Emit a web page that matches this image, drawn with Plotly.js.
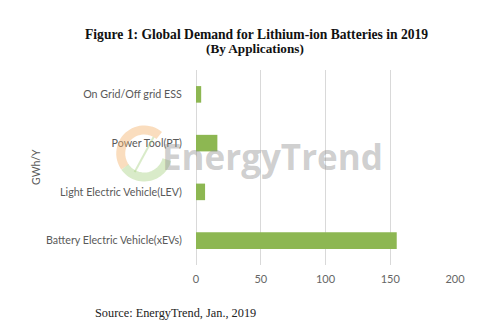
<!DOCTYPE html>
<html>
<head>
<meta charset="utf-8">
<script src="https://cdn.plot.ly/plotly-3.0.1.min.js"></script>
<style>
html,body{margin:0;padding:0;background:#fff;}
#chart{width:500px;height:335px;}
</style>
</head>
<body>
<div id="chart"></div>
<script>
const categories = ["Battery Electric Vehicle(xEVs)", "Light Electric Vehicle(LEV)", "Power Tool(PT)", "On Grid/Off grid ESS"];
const demand = [155, 7, 16.5, 4];
const xTicks = [0, 50, 100, 150, 200];
const titleLine1 = "Figure 1: Global Demand for Lithium-ion Batteries in 2019";
const titleLine2 = "(By Applications)";
const sourceText = "Source: EnergyTrend, Jan., 2019";

const W = 500, H = 335;
const M = {l: 195.5, r: 44.7, t: 70, b: 70};
const pw = W - M.l - M.r, ph = H - M.t - M.b;
const px = x => (x - M.l) / pw;
const py = y => (H - M.b - y) / ph;

function arcPath(cx, cy, r, a0, a1) {
  let s = "";
  const n = 30;
  for (let i = 0; i <= n; i++) {
    const a = (a0 + (a1 - a0) * i / n) * Math.PI / 180;
    const x = cx + r * Math.cos(a), y = cy - r * Math.sin(a);
    s += (i === 0 ? "M" : "L") + px(x).toFixed(4) + "," + py(y).toFixed(4);
  }
  return s;
}

const data = [{
  type: "bar",
  orientation: "h",
  y: categories,
  x: demand,
  marker: {color: "#8DB752"},
  hoverinfo: "x+y"
}];

const layout = {
  width: W, height: H,
  margin: M,
  paper_bgcolor: "#fff", plot_bgcolor: "#fff",
  showlegend: false,
  bargap: 0.66,
  xaxis: {
    range: [0, 200], tickvals: xTicks, showgrid: true, gridcolor: "#d9d9d9", gridwidth: 1,
    zeroline: true, zerolinecolor: "#d9d9d9", zerolinewidth: 1, showline: false,
    tickfont: {family: "Lato", size: 11, color: "#666"}, ticks: "outside", ticklen: 4, tickcolor: "rgba(0,0,0,0)"
  },
  yaxis: {
    type: "category", showgrid: false, zeroline: false, showline: false,
    ticks: "outside", ticklen: 11, tickcolor: "rgba(0,0,0,0)",
    tickfont: {family: "Lato", size: 10.7, color: "#595959"}
  },
  shapes: [
    {type: "path", xref: "paper", yref: "paper", path: arcPath(143.5, 153.5, 23.5, 50, 215), line: {color: "rgba(245,180,110,0.45)", width: 9}, layer: "above"},
    {type: "path", xref: "paper", yref: "paper", path: arcPath(143.5, 153.5, 23.5, 215, 345), line: {color: "rgba(160,205,120,0.4)", width: 9}, layer: "above"},
    {type: "path", xref: "paper", yref: "paper", path: "M" + px(134).toFixed(4) + "," + py(172).toFixed(4) + "L" + px(153).toFixed(4) + "," + py(137).toFixed(4), line: {color: "rgba(160,205,120,0.4)", width: 2}, layer: "above"}
  ],
  annotations: [
    {text: "<b>" + titleLine1 + "</b>", xref: "paper", yref: "paper", x: px(256), y: py(34), xanchor: "center", yanchor: "middle", showarrow: false, font: {family: "Liberation Serif", size: 13.6, color: "#111"}},
    {text: "<b>" + titleLine2 + "</b>", xref: "paper", yref: "paper", x: px(255), y: py(49), xanchor: "center", yanchor: "middle", showarrow: false, font: {family: "Liberation Serif", size: 13.2, color: "#111"}},
    {text: sourceText, xref: "paper", yref: "paper", x: px(92), y: py(313), xanchor: "left", yanchor: "middle", showarrow: false, font: {family: "Liberation Serif", size: 12.3, color: "#222"}},
    {text: "GWh/Y", xref: "paper", yref: "paper", x: px(35), y: py(167), xanchor: "center", yanchor: "middle", textangle: -90, showarrow: false, font: {family: "Lato", size: 10.5, color: "#595959"}},
    {text: "<b>EnergyTrend</b>", xref: "paper", yref: "paper", x: px(272.5), y: py(156), xanchor: "center", yanchor: "middle", showarrow: false, font: {family: "Open Sans", size: 35, color: "rgba(140,140,140,0.42)"}}
  ]
};

Plotly.newPlot("chart", data, layout, {displayModeBar: false, staticPlot: true});
</script>
</body>
</html>
